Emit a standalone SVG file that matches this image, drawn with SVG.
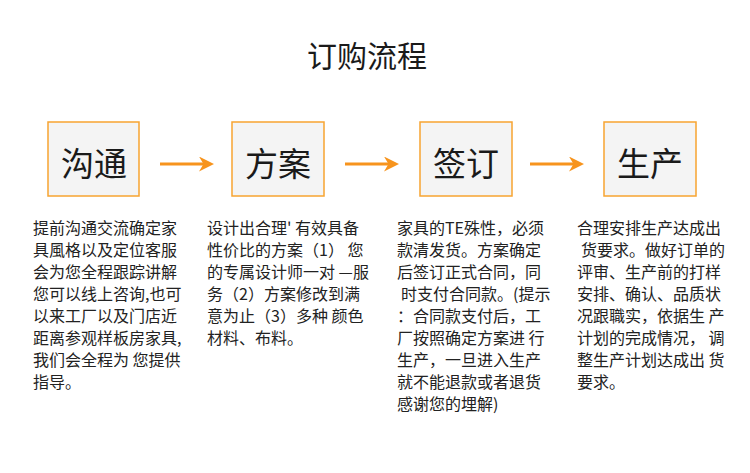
<svg xmlns="http://www.w3.org/2000/svg" width="750" height="473" viewBox="0 0 750 473">
<defs>
<style>
.cjk{font-family:"Noto Sans CJK SC","Noto Sans",sans-serif;fill:#1a1a1a}
.title{font-size:30px}
.box rect{fill:#f4f4f4;stroke:#f7a430;stroke-width:1.5}
.box text{font-size:33px;text-anchor:middle}
.body{font-size:16px;fill:#222}
.conn line{stroke:#f7941d;stroke-width:3}
</style>
<marker id="ah" viewBox="0 0 10 10" refX="6" refY="5" markerWidth="5" markerHeight="5" orient="auto" markerUnits="strokeWidth">
<path d="M0,0 L10,5 L0,10 L3,5 Z" fill="#f7941d"/>
</marker>
</defs>
<rect width="750" height="473" fill="#ffffff"/>
<text class="cjk title" x="367" y="67" text-anchor="middle">订购流程</text>
<g id="node-goutong" class="box"><rect x="48" y="122" width="91" height="74"/><text class="cjk" x="94" y="176">沟通</text></g>
<g id="node-fangan" class="box"><rect x="232" y="122" width="92" height="74"/><text class="cjk" x="278" y="176">方案</text></g>
<g id="node-qianding" class="box"><rect x="420" y="122" width="92" height="74"/><text class="cjk" x="466" y="176">签订</text></g>
<g id="node-shengchan" class="box"><rect x="604" y="122" width="92" height="74"/><text class="cjk" x="650" y="176">生产</text></g>
<g id="connectors" class="conn">
<line x1="160" y1="164" x2="208" y2="164" marker-end="url(#ah)"/>
<line x1="345" y1="164" x2="393" y2="164" marker-end="url(#ah)"/>
<line x1="530" y1="164" x2="578" y2="164" marker-end="url(#ah)"/>
</g>
<g id="desc-goutong" class="cjk body">
<text x="33" y="234">提前沟通交流确定家</text>
<text x="33" y="256">具風格以及定位客服</text>
<text x="33" y="278">会为您全程跟踪讲解</text>
<text x="33" y="300">您可以线上咨询,也可</text>
<text x="33" y="322">以来工厂以及门店近</text>
<text x="33" y="344">距离参观样板房家具,</text>
<text x="33" y="366">我们会全程为 您提供</text>
<text x="33" y="388">指导。</text>
</g>
<g id="desc-fangan" class="cjk body">
<text x="207" y="234">设计出合理' 有效具备</text>
<text x="207" y="256">性价比的方案（1） 您</text>
<text x="207" y="278">的专属设计师一对 —服</text>
<text x="207" y="300">务（2）方案修改到满</text>
<text x="207" y="322">意为止（3）多种 颜色</text>
<text x="207" y="344">材料、布料。</text>
</g>
<g id="desc-qianding" class="cjk body">
<text x="397" y="234">家具的TE殊性，必须</text>
<text x="397" y="256">款清发货。方案确定</text>
<text x="397" y="278">后签订正式合同，同</text>
<text x="401" y="300">时支付合同款。(提示</text>
<text x="397" y="322">：合同款支付后，工</text>
<text x="397" y="344">厂按照确定方案进 行</text>
<text x="397" y="366">生产，一旦进入生产</text>
<text x="397" y="388">就不能退款或者退货</text>
<text x="397" y="410">感谢您的埋解)</text>
</g>
<g id="desc-shengchan" class="cjk body">
<text x="577" y="234">合理安排生产达成出</text>
<text x="581" y="256">货要求。做好订单的</text>
<text x="577" y="278">评审、生产前的打样</text>
<text x="577" y="300">安排、确认、品质状</text>
<text x="577" y="322">况跟職实，依据生 产</text>
<text x="577" y="344">计划的完成情况， 调</text>
<text x="577" y="366">整生产计划达成出 货</text>
<text x="577" y="388">要求。</text>
</g>
</svg>
